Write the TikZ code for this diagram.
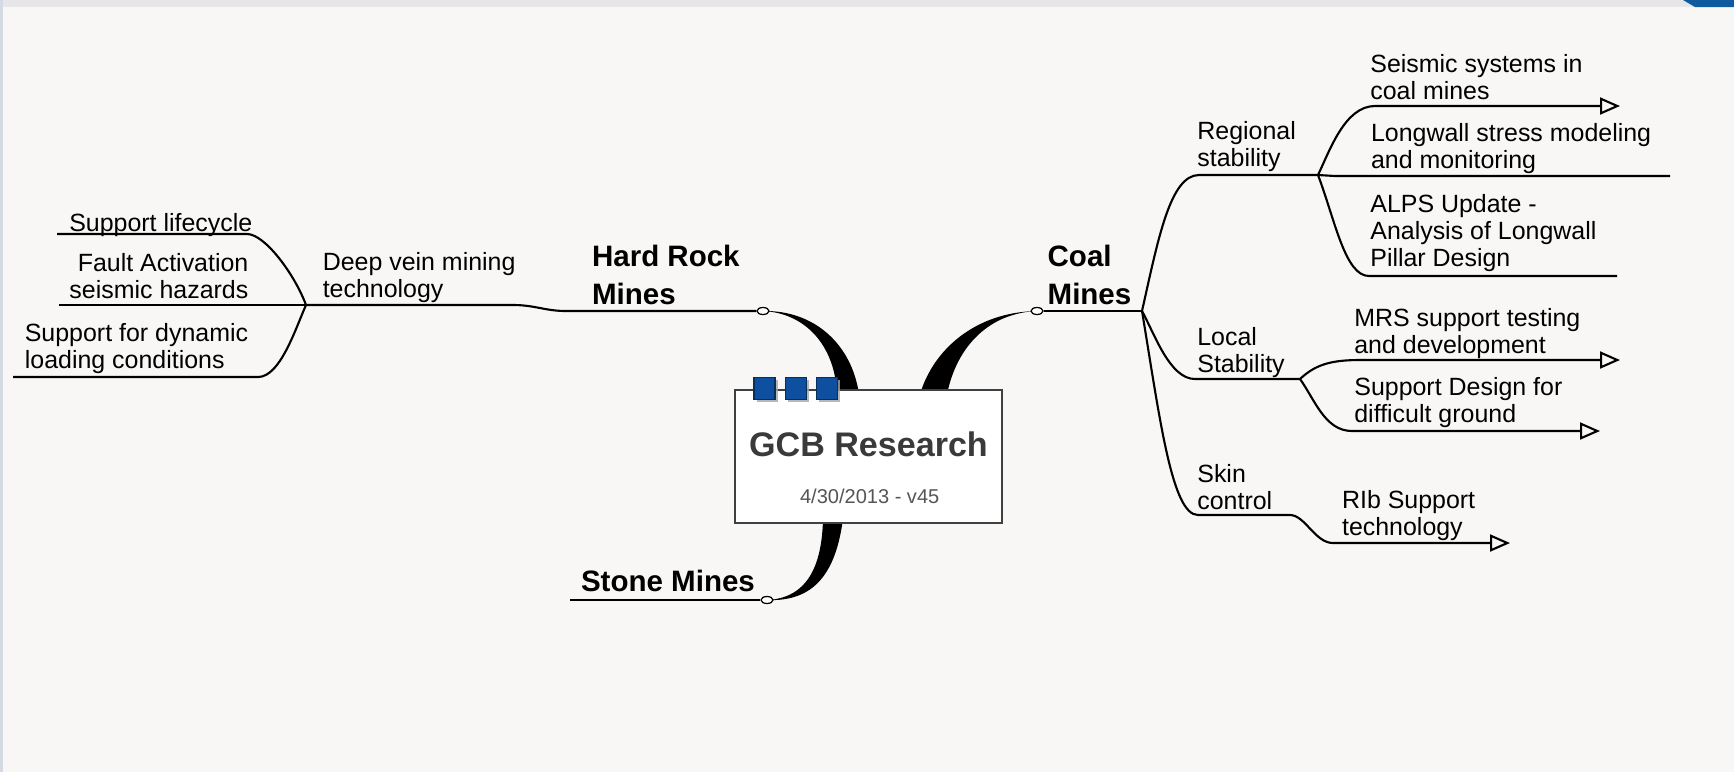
\documentclass[tikz,border=0pt]{standalone}
\usepackage{fontspec}
\setmainfont{Liberation Sans}
\usepackage{xcolor}
\usetikzlibrary{shapes.geometric, arrows.meta, shadows, calc, backgrounds}
\definecolor{bgcol}{HTML}{F8F7F5}
\definecolor{tabblue}{HTML}{0E4FA0}
\definecolor{tabedge}{HTML}{0A2E5C}
\definecolor{titlegray}{HTML}{3A3A3A}
\definecolor{dategray}{HTML}{555555}
\definecolor{edgeblue}{HTML}{D3DAE3}
\definecolor{stripgray}{HTML}{E6E6E9}
\definecolor{cornerblue}{HTML}{0F5A9E}

\begin{document}
\begin{tikzpicture}[x=0.02cm, y=-0.02cm,
  topic/.style={anchor=north west, inner sep=0pt, align=left,
                font=\fontsize{14.2}{15.4}\selectfont},
  mainbr/.style={anchor=north west, inner sep=0pt, align=left,
                 font=\fontsize{16.8}{21.6}\selectfont\bfseries},
  knob/.style={draw, fill=white, ellipse, line width=0.7pt, inner sep=0pt,
               minimum width=0.24cm, minimum height=0.14cm},
  tab/.style={draw=tabedge, fill=tabblue, line width=0.6pt, inner sep=0pt,
              minimum width=0.42cm, minimum height=0.44cm,
              drop shadow={shadow xshift=0.05cm, shadow yshift=-0.05cm,
                           fill=gray!70, opacity=0.8}},
  branch/.style={line width=1.2pt},
  >={Triangle[open, length=0.4cm, width=0.34cm]}
]
\useasboundingbox (0,0) rectangle (1734,772);

\node[draw=black!75, fill=white, line width=0.8pt, inner sep=0pt,
      minimum width=5.34cm, minimum height=2.66cm] (gcb) at (868.5,456.5) {};
\node[tab] (tab1) at (764.5,388.3) {};
\node[tab] (tab2) at (796,388.3) {};
\node[tab] (tab3) at (827,388.3) {};
\node[anchor=north, inner sep=0pt, text=titlegray,
      font=\fontsize{19.4}{22}\selectfont\bfseries] (gcbt) at (868.5,431.7) {GCB Research};
\node[anchor=north, inner sep=0pt, text=dategray,
      font=\fontsize{11.4}{13}\selectfont] (gcbd) at (869.7,488.3) {4/30/2013 - v45};

\node[mainbr] (hrm) at (591.7,245) {Hard Rock\\Mines};
\node[mainbr] (cm) at (1047.3,245) {Coal\\Mines};
\node[mainbr] (sm) at (580.7,569.3) {Stone Mines};

\node[topic] (dvm) at (322.4,251.7) {Deep vein mining\\technology};
\node[topic] (slc) at (68.9,213) {Support lifecycle};
\node[topic, anchor=north east, align=right] (fah) at (248.7,253.3) {Fault Activation\\seismic hazards};
\node[topic] (sdl) at (24.5,323.3) {Support for dynamic\\loading conditions};

\node[topic] (rgs) at (1197,120.7) {Regional\\stability};
\node[topic] (ssc) at (1370,54) {Seismic systems in\\coal mines};
\node[topic] (lsm) at (1370.7,123.3) {Longwall stress modeling\\and monitoring};
\node[topic] (alp) at (1370,194) {ALPS Update -\\Analysis of Longwall\\Pillar Design};
\node[topic] (lcs) at (1197,326.7) {Local\\Stability};
\node[topic] (mrs) at (1354,308.3) {MRS support testing\\and development};
\node[topic] (sdg) at (1354,377.3) {Support Design for\\difficult ground};
\node[topic] (skc) at (1197,464) {Skin\\control};
\node[topic] (rib) at (1341.7,490) {RIb Support\\technology};

\coordinate (jd) at (306,305);
\coordinate (jc) at (1142,311);
\coordinate (jr) at (1318,175);
\coordinate (jl) at (1300,379);
\coordinate (slcend) at (57,234);
\coordinate (fahend) at (59,305);
\coordinate (sdlend) at (13,377);
\coordinate (smend) at (570,600);
\coordinate (sscend) at (1620,106);
\coordinate (lsmend) at (1670,176);
\coordinate (alpend) at (1617,276);
\coordinate (mrsend) at (1620,360);
\coordinate (sdgend) at (1600,431);
\coordinate (ribend) at (1510,543);

\node[knob] (hrd) at (763,311) {};
\node[knob] (cmd) at (1037,311) {};
\node[knob] (smd) at (767,600) {};

\draw[branch] (hrd.west) -- (566,311) .. controls (545,311) and (535,305) .. (513,305) -- (jd);
\draw[branch] (jd) .. controls (295,275) and (265,234) .. (247,234) -- (slcend);
\draw[branch] (jd) -- (fahend);
\draw[branch] (jd) .. controls (295,330) and (280,377) .. (258,377) -- (sdlend);
\draw[branch] (smd.west) -- (smend);

\draw[branch] (cmd.east) -- (jc);
\draw[branch] (jc) .. controls (1158,240) and (1170,175) .. (1199,175) -- (jr);
\draw[branch, ->] (jr) .. controls (1330,150) and (1345,106) .. (1375,106) -- (sscend);
\draw[branch] (jr) -- (1335,176) -- (lsmend);
\draw[branch] (jr) .. controls (1335,220) and (1345,276) .. (1369,276) -- (alpend);
\draw[branch] (jc) .. controls (1155,335) and (1170,379) .. (1195,379) -- (jl);
\draw[branch, ->] (jl) .. controls (1315,365) and (1330,360) .. (1360,360) -- (mrsend);
\draw[branch, ->] (jl) .. controls (1315,400) and (1325,431) .. (1352,431) -- (sdgend);
\draw[branch, ->] (jc) .. controls (1160,420) and (1172,515) .. (1198,515) -- (1290,515)
  .. controls (1305,515) and (1315,543) .. (1333,543) -- (ribend);

\begin{scope}[on background layer]
\fill[bgcol] (0,0) rectangle (1734,772);
\fill[stripgray] (0,0) rectangle (1734,7);
\fill[edgeblue] (0,0) rectangle (3,772);
\fill[cornerblue] (1683,0) -- (1734,0) -- (1734,7) -- (1695,7) -- cycle;
\fill (hrd.center) .. controls (805,313) and (835,345) .. ($(gcb.north)+(-31.5,5)$)
  -- ($(gcb.north)+(-9.5,5)$) .. controls (852,345) and (815,310) .. (hrd.center) -- cycle;
\fill ($(gcb.north)+(51.5,5)$) .. controls (933,350) and (975,312) .. (cmd.center)
  .. controls (990,313) and (957,345) .. ($(gcb.north)+(78.5,5)$) -- cycle;
\fill ($(gcb.south)+(-45.5,-5)$) .. controls (822,565) and (808,598) .. (smd.center)
  .. controls (815,602) and (836,572) .. ($(gcb.south)+(-25.5,-5)$) -- cycle;
\end{scope}
\end{tikzpicture}
\end{document}
